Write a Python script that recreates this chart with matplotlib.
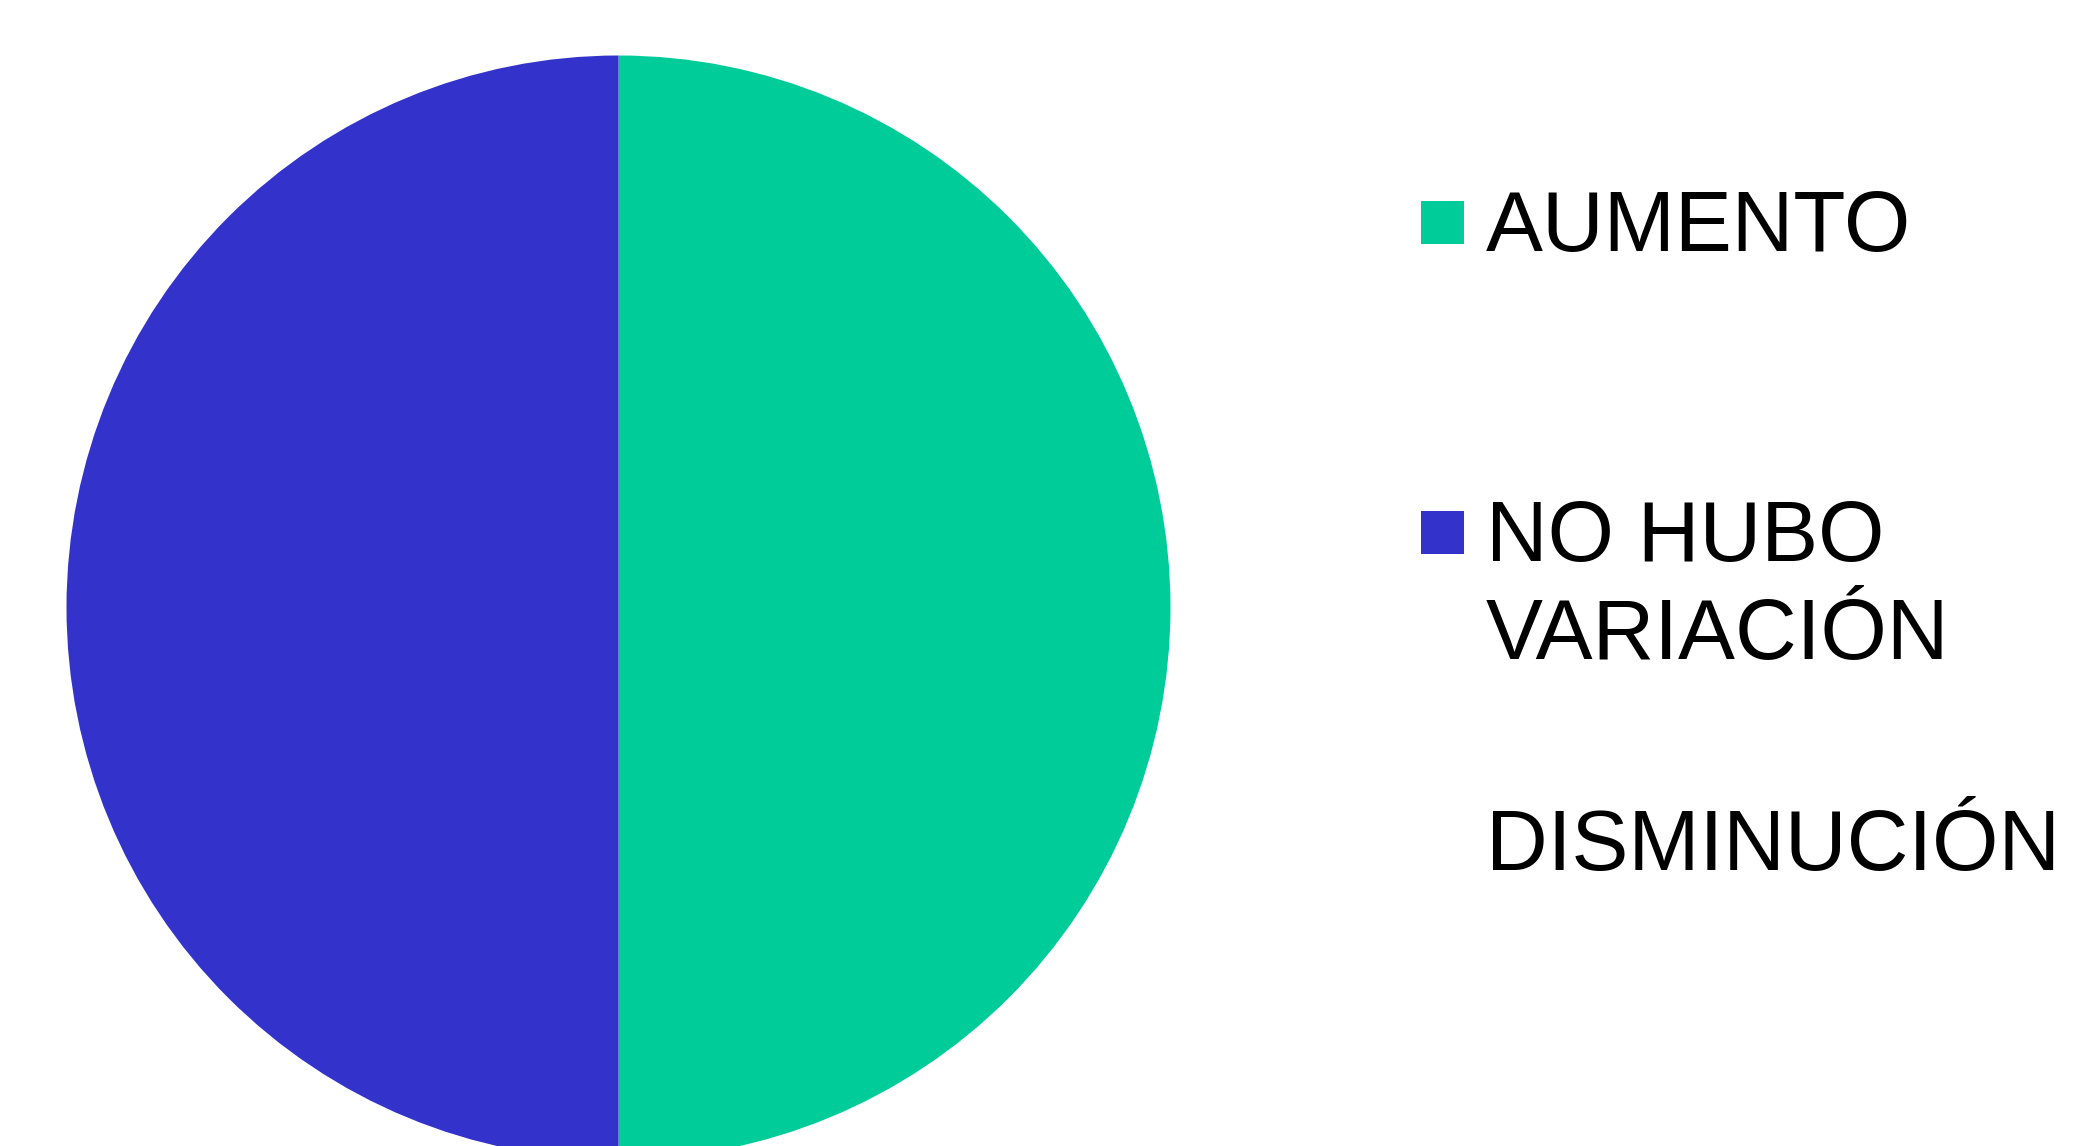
import matplotlib

matplotlib.use("Agg")
import matplotlib.pyplot as plt
from matplotlib.patches import Rectangle

plt.rcParams["font.family"] = ["Liberation Sans", "DejaVu Sans"]

# data
categories = ["AUMENTO", "NO HUBO\nVARIACIÓN", "DISMINUCIÓN"]
values = [50, 50, 0]
colors = ["#00CC99", "#3333CC", "#FFFFFF"]

W, H = 2077, 1146
fig = plt.figure(figsize=(W / 100, H / 100), dpi=100)

# pie: centre (618.5, 607.5) px from top-left, radius 552 px
cx, cy, r = 618.5, H - 607.5, 552
ax = fig.add_axes([(cx - r) / W, (cy - r) / H, 2 * r / W, 2 * r / H])
ax.pie(values, colors=colors, startangle=90, counterclock=False,
       wedgeprops=dict(linewidth=0))
ax.set_xlim(-1, 1)
ax.set_ylim(-1, 1)
ax.set_aspect("equal")
ax.axis("off")

# legend drawn by hand: square + label lines, entries 309.5 px apart
first_baseline = 251
step = 309.5
line_gap = 98
sq = 43
for i, (lab, col) in enumerate(zip(categories, colors)):
    base = first_baseline + step * i
    fig.patches.append(Rectangle((1421 / W, (H - base + 7) / H), sq / W, sq / H,
                                 transform=fig.transFigure, facecolor=col,
                                 edgecolor="none"))
    for j, line in enumerate(lab.split("\n")):
        fig.text(1486 / W, (H - base - line_gap * j) / H, line, fontsize=61.5,
                 va="baseline", ha="left", color="black")

fig.savefig("out.png", dpi=100, facecolor="white")
